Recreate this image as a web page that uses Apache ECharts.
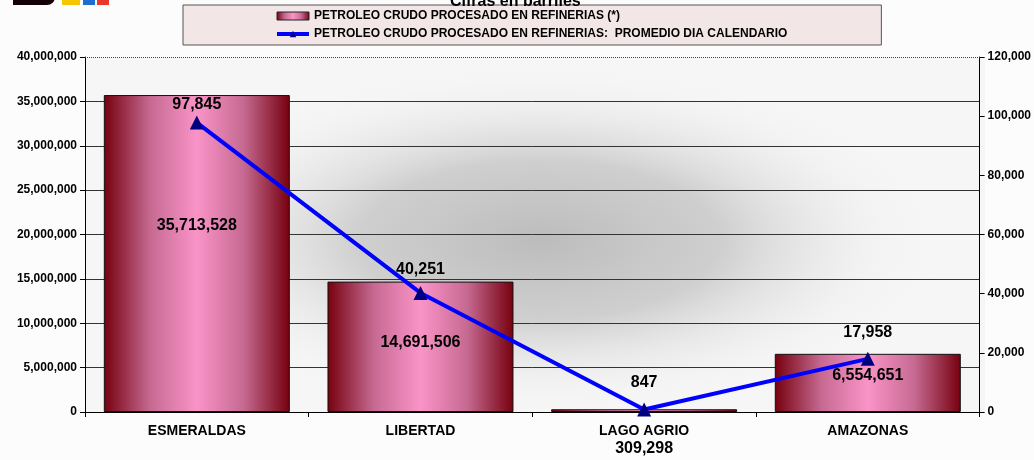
<!DOCTYPE html>
<html>
<head>
<meta charset="utf-8">
<script src="https://cdn.jsdelivr.net/npm/echarts@6/dist/echarts.min.js"></script>
<style>
  html, body { margin: 0; padding: 0; background: #ffffff; }
  #chart { width: 1034px; height: 460px; }
</style>
</head>
<body>
<div id="chart"></div>
<script>
// datos del grafico
var refinerias = ['ESMERALDAS', 'LIBERTAD', 'LAGO AGRIO', 'AMAZONAS']
var crudoProcesado = [35713528, 14691506, 309298, 6554651]
var promedioDia = [97845, 40251, 847, 17958]
var serieBarras = 'PETROLEO CRUDO PROCESADO EN REFINERIAS (*)'
var serieLinea = 'PETROLEO CRUDO PROCESADO EN REFINERIAS:  PROMEDIO DIA CALENDARIO'

var fontFam = '"Liberation Sans", Arial, sans-serif'
function fmt(v) {
  return Number(v).toLocaleString('en-US')
}

// ajustes finos de etiquetas (como en el original)
var barLabelShift = [-28, -4, 24, -7]
var lineLabelDist = [3, 8, 12, 11]

var chart = echarts.init(document.getElementById('chart'))

var barColor = new echarts.graphic.LinearGradient(0, 0, 1, 0, [
  { offset: 0, color: '#76000e' },
  { offset: 0.25, color: '#c66a92' },
  { offset: 0.5, color: '#fa94c8' },
  { offset: 0.75, color: '#c66a92' },
  { offset: 1, color: '#76000e' }
])

var barData = crudoProcesado.map(function(v, i) {
  var item = { value: v, label: { offset: [0, barLabelShift[i]] } }
  if (v < 1000000) {
    // barra muy pequena: etiqueta debajo del eje
    item.label.position = 'bottom'
  }
  return item
})

var lineData = promedioDia.map(function(v, i) {
  return { value: v, label: { distance: lineLabelDist[i] } }
})

// lineas de division: la superior va punteada (markLine)
var splitColors = ['#333', '#333', '#333', '#333', '#333', '#333', '#333', '#333', 'rgba(0,0,0,0)']

var option = {
  backgroundColor: '#fcfcfc',
  textStyle: { fontFamily: fontFam },
  title: {
    text: 'Cifras en barriles',
    left: 445,
    top: -11,
    textStyle: { fontSize: 16, fontWeight: 'bold', color: '#000', fontFamily: fontFam }
  },
  graphic: [
    { type: 'rect', shape: { x: 13, y: -6, width: 42, height: 11, r: [0, 0, 8, 0] }, style: { fill: '#150008' } },
    { type: 'rect', shape: { x: 62, y: -6, width: 18, height: 11 }, style: { fill: '#f6c700' } },
    { type: 'rect', shape: { x: 83, y: -6, width: 12, height: 11 }, style: { fill: '#1c6fd0' } },
    { type: 'rect', shape: { x: 97, y: -6, width: 12, height: 11 }, style: { fill: '#e8382c' } },
    // fondo del area de trazado
    { type: 'rect', z: -3, silent: true, shape: { x: 85, y: 57, width: 900, height: 355 }, style: { fill: '#f6f6f6' } },
    {
      type: 'circle', z: -2, silent: true, x: 540, y: 240, scaleX: 2.3, scaleY: 1,
      shape: { cx: 0, cy: 0, r: 175 },
      style: {
        fill: new echarts.graphic.RadialGradient(0.5, 0.5, 0.5, [
          { offset: 0, color: 'rgba(188,188,188,1)' },
          { offset: 0.45, color: 'rgba(200,200,200,0.85)' },
          { offset: 1, color: 'rgba(246,246,246,0)' }
        ])
      }
    }
  ],
  legend: {
    orient: 'vertical',
    left: 183,
    top: 5,
    padding: [5, 94, 5, 92],
    itemGap: 6,
    itemWidth: 32,
    itemHeight: 8,
    backgroundColor: '#f3e6e6',
    borderColor: '#555',
    borderWidth: 1,
    textStyle: { fontSize: 12, fontWeight: 'bold', color: '#000', fontFamily: fontFam },
    data: [
      { name: serieBarras, icon: 'rect', itemStyle: { borderColor: '#222', borderWidth: 1 } },
      { name: serieLinea, lineStyle: { width: 4, color: '#0000ff' } }
    ]
  },
  grid: {
    left: 85,
    right: 49,
    top: 57,
    bottom: 48
  },
  xAxis: {
    type: 'category',
    data: refinerias,
    axisLine: { lineStyle: { color: '#000', width: 1 } },
    axisTick: { show: true, length: 5, lineStyle: { color: '#000' } },
    axisLabel: { fontSize: 14, fontWeight: 'bold', color: '#000', margin: 12, fontFamily: fontFam }
  },
  yAxis: [{
    type: 'value',
    min: 0,
    max: 40000000,
    interval: 5000000,
    axisLine: { show: true, lineStyle: { color: '#000' } },
    axisTick: { show: true, length: 5, lineStyle: { color: '#000' } },
    splitLine: { lineStyle: { color: splitColors, width: 1 } },
    axisLabel: { fontSize: 12, fontWeight: 'bold', color: '#000', margin: 8, formatter: fmt, fontFamily: fontFam }
  }, {
    type: 'value',
    min: 0,
    max: 120000,
    interval: 20000,
    position: 'right',
    axisLine: { show: true, lineStyle: { color: '#000' } },
    axisTick: { show: true, length: 5, lineStyle: { color: '#000' } },
    splitLine: { show: false },
    axisLabel: { fontSize: 12, fontWeight: 'bold', color: '#000', margin: 8, formatter: fmt, fontFamily: fontFam }
  }],
  series: [{
    name: serieBarras,
    type: 'bar',
    yAxisIndex: 0,
    barWidth: 186,
    data: barData,
    itemStyle: { color: barColor, borderColor: '#111', borderWidth: 1 },
    label: {
      show: true,
      position: 'inside',
      fontSize: 16,
      fontWeight: 'bold',
      color: '#000',
      fontFamily: fontFam,
      formatter: function(p) { return fmt(p.value) }
    },
    markLine: {
      silent: true,
      symbol: 'none',
      label: { show: false },
      lineStyle: { color: '#444', type: 'dotted', width: 1 },
      data: [{ yAxis: 40000000 }]
    }
  }, {
    name: serieLinea,
    type: 'line',
    yAxisIndex: 1,
    data: lineData,
    symbol: 'triangle',
    symbolSize: 14,
    lineStyle: { color: '#0000ff', width: 4 },
    itemStyle: { color: '#000080' },
    label: {
      show: true,
      position: 'top',
      fontSize: 16,
      fontWeight: 'bold',
      color: '#000',
      fontFamily: fontFam,
      formatter: function(p) { return fmt(p.value) }
    },
    z: 5
  }]
}

chart.setOption(option)
</script>
</body>
</html>
